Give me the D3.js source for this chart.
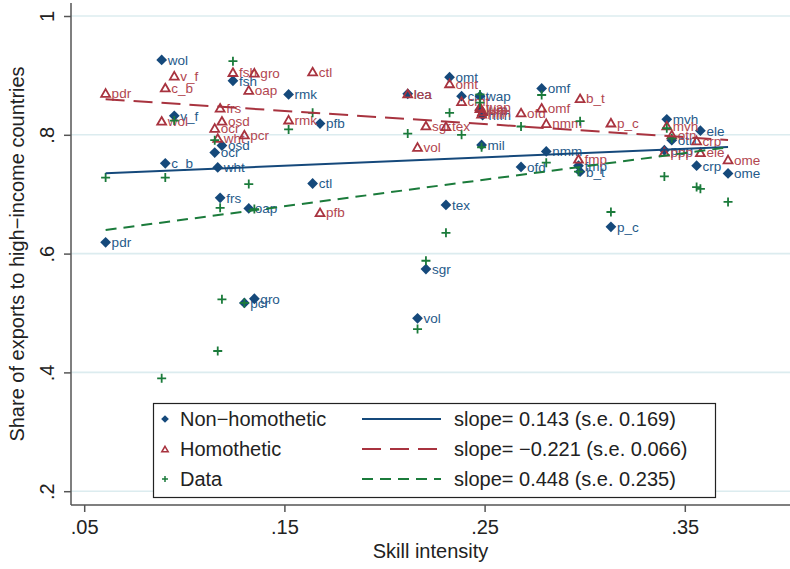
<!DOCTYPE html>
<html>
<head>
<meta charset="utf-8">
<script src="https://cdn.jsdelivr.net/npm/d3@7"></script>
<style>
  body { margin: 0; background: #fff; }
  svg { display: block; font-family: "Liberation Sans", Arial, sans-serif; }
</style>
</head>
<body>
<svg id="chart" width="790" height="569"></svg>
<script>
'use strict'

// sectors (GTAP codes) and their skill intensity
var sectors = ['pdr', 'wol', 'c_b', 'v_f', 'ocr', 'wht', 'frs', 'osd', 'fsh', 'pcr',
  'oap', 'gro', 'rmk', 'ctl', 'pfb', 'lea', 'vol', 'sgr', 'tex', 'omt',
  'cmt', 'wap', 'lum', 'nfm', 'mil', 'ofd', 'omf', 'nmm', 'fmp', 'b_t',
  'p_c', 'ppp', 'mvh', 'otn', 'crp', 'ele', 'ome']
var skill = [0.0607, 0.0887, 0.0905, 0.0950, 0.1152, 0.1167, 0.1179, 0.1188, 0.1243, 0.1300,
  0.1322, 0.1350, 0.1521, 0.1641, 0.1678, 0.2116, 0.2165, 0.2207, 0.2307, 0.2325,
  0.2385, 0.2477, 0.2477, 0.2490, 0.2485, 0.2682, 0.2785, 0.2808, 0.2969, 0.2977,
  0.3131, 0.3398, 0.3410, 0.3435, 0.3559, 0.3578, 0.3716]
// share of exports to high-income countries
var nonHomothetic = [0.619, 0.926, 0.752, 0.832, 0.770, 0.745, 0.694, 0.782, 0.891, 0.517,
  0.676, 0.524, 0.868, 0.718, 0.819, 0.869, 0.491, 0.574, 0.682, 0.897,
  0.865, 0.865, 0.842, 0.833, 0.783, 0.746, 0.878, 0.772, 0.748, 0.738,
  0.645, 0.774, 0.826, 0.791, 0.748, 0.807, 0.735]
var homothetic = [0.870, 0.823, 0.879, 0.899, 0.811, 0.794, 0.845, 0.823, 0.905, 0.800,
  0.875, 0.904, 0.825, 0.906, 0.669, 0.869, 0.779, 0.815, 0.814, 0.886,
  0.856, 0.847, 0.844, 0.839, 0.835, 0.837, 0.845, 0.819, 0.759, 0.861,
  0.820, 0.771, 0.815, 0.800, 0.790, 0.770, 0.758]
var observed = [0.728, 0.390, 0.728, 0.824, 0.791, 0.436, 0.677, 0.523, 0.924, 0.517,
  0.717, 0.675, 0.809, 0.837, null, 0.802, 0.473, 0.588, 0.635, 0.837,
  0.800, 0.868, 0.854, null, 0.779, 0.814, 0.867, 0.753, 0.738, 0.823,
  0.670, 0.730, 0.811, 0.794, 0.712, 0.709, 0.687]

// fitted lines: intercept + slope * skill
var fitNames = ['Non\u2212homothetic', 'Homothetic', 'Data']
var fitSlopes = [0.143, -0.221, 0.448]
var fitIntercepts = [0.7265, 0.8734, 0.6125]
var fitLabels = ['slope= 0.143 (s.e. 0.169)', 'slope= \u22120.221 (s.e. 0.066)', 'slope= 0.448 (s.e. 0.235)']

var xTicks = [0.05, 0.15, 0.25, 0.35]
var yTicks = [0.2, 0.4, 0.6, 0.8, 1]

var colors = { blue: '#15497b', red: '#a8333f', green: '#1b7b3b' }
var plot = { left: 71, right: 790, top: 3, bottom: 505 }

var svg = d3.select('#chart')

var x = d3.scaleLinear().domain([0.05, 0.35]).range([84.2, 684.8])
var y = d3.scaleLinear().domain([0.2, 1]).range([491.2, 16])

var noZero = function (d) { return d === 1 ? '1' : String(d).replace(/^0/, '') }

// gridlines
svg.append('g').selectAll('line')
  .data(yTicks)
  .enter().append('line')
  .attr('x1', plot.left).attr('x2', plot.right)
  .attr('y1', function (d) { return y(d) }).attr('y2', function (d) { return y(d) })
  .attr('stroke', '#dcecef').attr('stroke-width', 1.6)

// axes
var yAxis = svg.append('g')
  .attr('transform', 'translate(' + plot.left + ',0)')
  .call(d3.axisLeft(y).tickValues(yTicks).tickFormat(noZero).tickSize(7).tickSizeOuter(0))
yAxis.select('.domain').attr('d', 'M0,' + plot.top + 'V' + plot.bottom)
yAxis.selectAll('text')
  .attr('transform', 'rotate(-90)')
  .attr('x', 0).attr('y', -17).attr('dy', 0)
  .attr('text-anchor', 'middle')

var xAxis = svg.append('g')
  .attr('transform', 'translate(0,' + plot.bottom + ')')
  .call(d3.axisBottom(x).tickValues(xTicks).tickFormat(noZero).tickSize(7).tickPadding(8).tickSizeOuter(0))
xAxis.select('.domain').attr('d', 'M' + plot.left + ',0H' + plot.right)

svg.selectAll('.tick text').attr('font-size', 20).attr('fill', '#222').attr('font-family', null)
svg.selectAll('.domain, .tick line').attr('stroke', '#555').attr('stroke-width', 1.5)

svg.append('text')
  .attr('x', (plot.left + plot.right) / 2).attr('y', 558)
  .attr('text-anchor', 'middle').attr('font-size', 20).attr('fill', '#222')
  .text('Skill intensity')
svg.append('text')
  .attr('transform', 'translate(24,' + (plot.top + plot.bottom) / 2 + ') rotate(-90)')
  .attr('text-anchor', 'middle').attr('font-size', 20).attr('fill', '#222')
  .text('Share of exports to high\u2212income countries')

// marker shapes
var diamond = d3.symbol().type(d3.symbolSquare).size(58)
var triangle = d3.symbol().type(d3.symbolTriangle).size(34)
var plus = 'M-4.5,0H4.5M0,-4.5V4.5'

var rows = sectors.map(function (s, i) {
  return { name: s, skill: skill[i], nh: nonHomothetic[i], h: homothetic[i], obs: observed[i] }
})

var g = svg.append('g')

// non-homothetic
var nh = g.append('g').selectAll('g')
  .data(rows).enter().append('g')
  .attr('transform', function (d) { return 'translate(' + x(d.skill) + ',' + y(d.nh) + ')' })
nh.append('path').attr('d', diamond).attr('transform', 'rotate(45)').attr('fill', colors.blue)
nh.append('text').attr('x', 6).attr('dy', '0.36em')
  .attr('font-size', 13.5).attr('fill', '#255a8a')
  .text(function (d) { return d.name })

// homothetic
var hm = g.append('g').selectAll('g')
  .data(rows).enter().append('g')
  .attr('transform', function (d) { return 'translate(' + x(d.skill) + ',' + y(d.h) + ')' })
hm.append('path').attr('d', triangle).attr('transform', 'translate(0,1)')
  .attr('fill', 'none').attr('stroke', colors.red).attr('stroke-width', 1.8)
hm.append('text').attr('x', 6).attr('dy', '0.36em')
  .attr('font-size', 13.5).attr('fill', '#b24650')
  .text(function (d) { return d.name })

// data
g.append('g').selectAll('path')
  .data(rows.filter(function (d) { return d.obs !== null }))
  .enter().append('path')
  .attr('transform', function (d) { return 'translate(' + x(d.skill) + ',' + y(d.obs) + ')' })
  .attr('d', plus).attr('stroke', colors.green).attr('stroke-width', 1.8)

// fitted lines
var extent = d3.extent(skill)
var fitColors = [colors.blue, colors.red, colors.green]
var fitDash = [null, '19,9', '11,7']
var line = d3.line().x(function (d) { return x(d[0]) }).y(function (d) { return y(d[1]) })
fitSlopes.forEach(function (b, i) {
  var pts = extent.map(function (s) { return [s, fitIntercepts[i] + b * s] })
  g.append('path').attr('d', line(pts))
    .attr('fill', 'none').attr('stroke', fitColors[i]).attr('stroke-width', 2)
    .attr('stroke-dasharray', fitDash[i])
})

// legend
var legend = svg.append('g')
legend.append('rect')
  .attr('x', 153.5).attr('y', 403.5).attr('width', 562).attr('height', 94)
  .attr('fill', '#fff').attr('stroke', '#222').attr('stroke-width', 1.2)
var rowY = [419, 449, 479]
var items = legend.selectAll('g.item')
  .data(fitNames).enter().append('g')
  .attr('class', 'item')
  .attr('transform', function (d, i) { return 'translate(0,' + rowY[i] + ')' })
items.each(function (d, i) {
  var it = d3.select(this)
  if (i === 0) it.append('path').attr('d', d3.symbol().type(d3.symbolSquare).size(30)).attr('transform', 'translate(165,0) rotate(45)').attr('fill', colors.blue)
  if (i === 1) it.append('path').attr('d', d3.symbol().type(d3.symbolTriangle).size(18)).attr('transform', 'translate(165,1)').attr('fill', 'none').attr('stroke', colors.red).attr('stroke-width', 1.5)
  if (i === 2) it.append('path').attr('d', 'M-3,0H3M0,-3V3').attr('transform', 'translate(165,0)').attr('stroke', colors.green).attr('stroke-width', 1.5)
  it.append('text').attr('x', 180).attr('dy', '0.36em').attr('font-size', 20).attr('fill', '#222').text(d)
  it.append('line').attr('x1', 362).attr('x2', 441)
    .attr('stroke', fitColors[i]).attr('stroke-width', 2).attr('stroke-dasharray', fitDash[i])
  it.append('text').attr('x', 454).attr('dy', '0.36em').attr('font-size', 20).attr('fill', '#222').text(fitLabels[i])
})
</script>
</body>
</html>
